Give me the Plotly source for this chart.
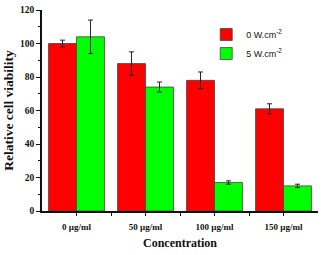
import plotly.graph_objects as go

categories = ["0 µg/ml", "50 µg/ml", "100 µg/ml", "150 µg/ml"]
series_names = ["0 W.cm<sup>-2</sup>", "5 W.cm<sup>-2</sup>"]
red_vals = [100, 88, 78, 61]
red_err = [2, 7, 5, 3]
green_vals = [104, 74, 17, 15]
green_err = [10, 3, 1, 1]

xpos = list(range(len(categories)))
serif = "Times New Roman, Liberation Serif, serif"
tfont = dict(family=serif, size=9, color="#111")

fig = go.Figure()
for name, vals, errs, col in [(series_names[0], red_vals, red_err, "#FF0000"),
                              (series_names[1], green_vals, green_err, "#00FF00")]:
    fig.add_trace(go.Bar(
        x=xpos, y=vals, name=name,
        marker=dict(color=col, line=dict(color="#444", width=0.8)),
        error_y=dict(type="data", array=errs, color="#222", thickness=1, width=2.5),
    ))

fig.update_layout(
    width=322, height=255,
    margin=dict(l=42, r=4, t=10, b=44),
    paper_bgcolor="white", plot_bgcolor="white",
    barmode="group", bargap=0.19, bargroupgap=0,
    showlegend=True,
    legend=dict(x=0.595, y=0.95, xanchor="left", yanchor="top",
                font=dict(family="Liberation Sans, Arial, sans-serif", size=9, color="#111"),
                bgcolor="rgba(0,0,0,0)", itemwidth=30, tracegroupgap=0),
    xaxis=dict(range=[-0.5, 3.5], tickvals=xpos, ticktext=["<b>%s</b>" % c for c in categories],
               showline=True, linecolor="#111", linewidth=1.5, ticks="outside", ticklen=3,
               tickcolor="#111", tickfont=tfont, showgrid=False, zeroline=False,
               ticklabelstandoff=3,
               minor=dict(tickvals=[0.5, 1.5, 2.5], ticks="outside", ticklen=3, tickcolor="#111"),
               title=dict(text="<b>Concentration</b>", standoff=8,
                          font=dict(family=serif, size=12, color="#111"))),
    yaxis=dict(range=[0, 120], tickvals=[0, 20, 40, 60, 80, 100, 120],
               ticktext=["<b>%d</b>" % v for v in [0, 20, 40, 60, 80, 100, 120]],
               showline=True, linecolor="#111", linewidth=1.5, ticks="outside", ticklen=4,
               tickcolor="#111", tickfont=dict(family=serif, size=9.5, color="#111"),
               showgrid=False, zeroline=False,
               minor=dict(dtick=10, ticks="outside", ticklen=2, tickcolor="#111"),
               title=dict(text="<b>Relative cell viability</b>", standoff=3,
                          font=dict(family=serif, size=13.5, color="#111"))),
)

fig.write_html("out.html")
